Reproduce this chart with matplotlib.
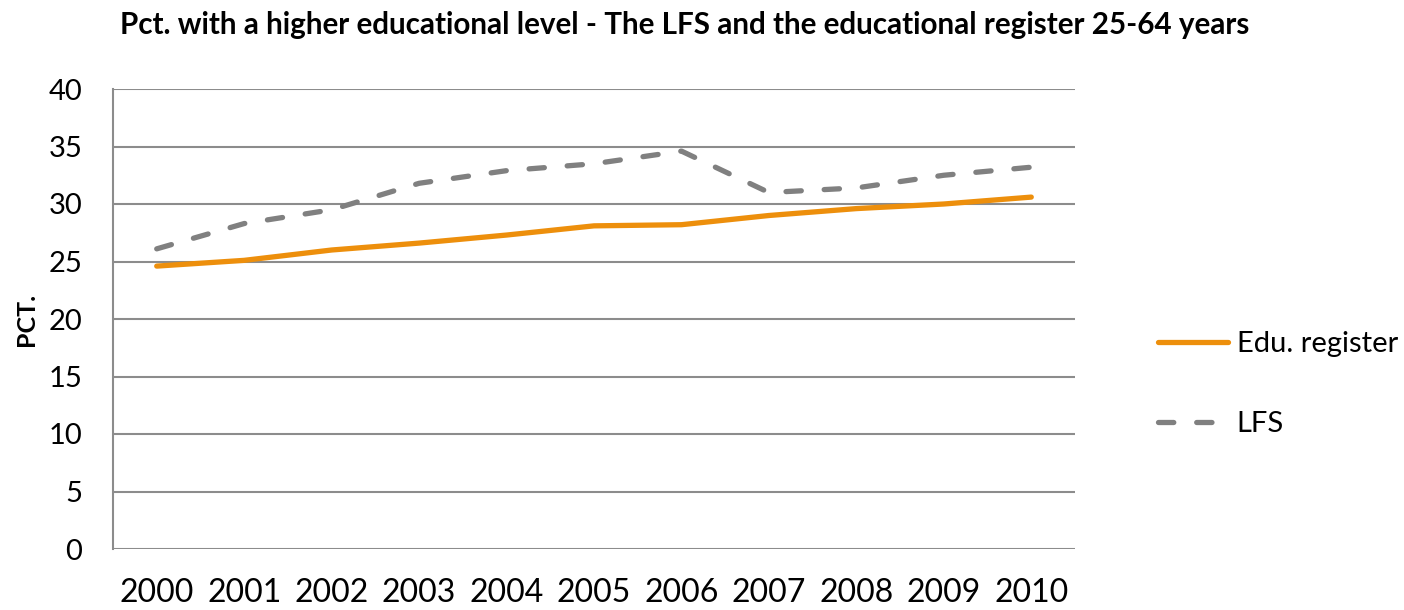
import matplotlib
matplotlib.use("Agg")
import matplotlib.pyplot as plt

years = ["2000", "2001", "2002", "2003", "2004", "2005", "2006", "2007", "2008", "2009", "2010"]
edu_register = [24.6, 25.1, 26.0, 26.6, 27.3, 28.1, 28.2, 29.0, 29.6, 30.0, 30.6]
lfs = [26.1, 28.3, 29.5, 31.8, 32.9, 33.5, 34.6, 31.0, 31.4, 32.5, 33.2]
y_ticks = [0, 5, 10, 15, 20, 25, 30, 35, 40]

plt.rcParams['font.family'] = ['Lato', 'DejaVu Sans']
plt.rcParams['lines.scale_dashes'] = False

W, H = 1404, 610
fig = plt.figure(figsize=(W/100, H/100), dpi=100)
ax = fig.add_axes([113/W, 1-549/H, (1075-113)/W, (549-89)/H])

x = list(range(len(years)))
ax.plot(x, edu_register, color='#ED8F0C', lw=3.8, solid_capstyle='round', label='Edu. register', zorder=3)
ln, = ax.plot(x, lfs, color='#808080', lw=3.8, dash_capstyle='round', label='LFS', zorder=3)
ln.set_dashes((11, 16.5))

ax.set_xlim(-0.5, len(years)-0.5)
ax.set_ylim(0, 40)
ax.set_yticks(y_ticks)
ax.set_xticks(x)
ax.set_xticklabels(years)
ax.grid(axis='y', color='#8C8C8C', lw=1.5)
ax.set_axisbelow(True)
for s in ['top', 'right', 'bottom']:
    ax.spines[s].set_visible(False)
ax.spines['left'].set_color('#8C8C8C')
ax.spines['left'].set_linewidth(1.5)
ax.tick_params(axis='both', length=0)
ax.tick_params(axis='y', labelsize=21, pad=22)
ax.tick_params(axis='x', labelsize=23, pad=21)

fig.text(26/W, 1-319/H, 'PCT.', fontsize=18, fontweight='bold', rotation=90, ha='center', va='center')

fig.text(685/W, 1-25/H, 'Pct. with a higher educational level - The LFS and the educational register 25-64 years',
         fontsize=21.3, fontweight='bold', ha='center', va='center')

handles, labels = ax.get_legend_handles_labels()
leg = fig.legend(handles, labels, loc='center left', bbox_to_anchor=(1158/W, 1-384/H),
                 frameon=False, fontsize=21, handlelength=2.4, handletextpad=0.3, labelspacing=1.85,
                 borderaxespad=0, borderpad=0)
fig.savefig('out.png', dpi=100)
